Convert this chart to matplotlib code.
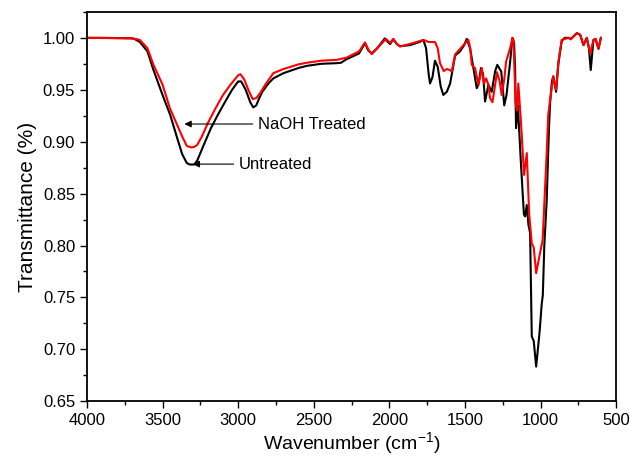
import numpy as np
import matplotlib
matplotlib.use("Agg")
import matplotlib.pyplot as plt
from matplotlib.ticker import MultipleLocator, FormatStrFormatter

plt.rcParams['font.family'] = ['Liberation Sans', 'DejaVu Sans']

#Untreated spectrum (wavenumber, transmittance)
wn_untreated = [4000, 3900, 3800, 3700, 3680, 3650, 3600, 3560, 3500, 3450, 3400, 3370,
                3340, 3320, 3290, 3270, 3230, 3180, 3130, 3080, 3040, 3000, 2980, 2950,
                2920, 2900, 2880, 2860, 2840, 2800, 2767, 2700, 2600, 2547, 2450, 2348,
                2320, 2282, 2200, 2161, 2140, 2117, 2080, 2030, 2010, 1995, 1975, 1950,
                1930, 1863, 1800, 1775, 1757, 1740, 1731, 1715, 1698, 1680, 1660, 1643,
                1620, 1598, 1565, 1532, 1505, 1488, 1466, 1444, 1422, 1411, 1394, 1380,
                1367, 1345, 1323, 1300, 1286, 1260, 1240, 1225, 1201, 1186, 1175, 1168,
                1162, 1150, 1130, 1110, 1102, 1091, 1080, 1069, 1058, 1045, 1029, 1007,
                992, 985, 975, 959, 945, 937, 925, 916, 897, 882, 860, 840, 816, 800,
                760, 738, 716, 694, 680, 668, 650, 636, 617, 601]
t_untreated = [1.000, 1.000, 0.9998, 0.9995, 0.9985, 0.996, 0.987, 0.969, 0.945, 0.926, 0.902, 0.888,
               0.8795, 0.878, 0.878, 0.882, 0.896, 0.913, 0.927, 0.940, 0.950, 0.958, 0.958, 0.950,
               0.938, 0.933, 0.935, 0.942, 0.948, 0.956, 0.961, 0.966, 0.971, 0.973, 0.975, 0.9756,
               0.976, 0.9795, 0.985, 0.995, 0.988, 0.985, 0.990, 0.9995, 0.996, 0.994, 0.9985, 0.994,
               0.992, 0.993, 0.996, 0.998, 0.990, 0.965, 0.956, 0.962, 0.978, 0.972, 0.953, 0.945,
               0.948, 0.956, 0.983, 0.987, 0.993, 0.999, 0.990, 0.9708, 0.9515, 0.955, 0.971, 0.965,
               0.9387, 0.9547, 0.948, 0.968, 0.974, 0.9676, 0.935, 0.945, 0.977, 1.000, 0.995, 0.969,
               0.913, 0.935, 0.880, 0.830, 0.828, 0.839, 0.820, 0.812, 0.7124, 0.708, 0.6834, 0.7156,
               0.744, 0.752, 0.800, 0.844, 0.910, 0.937, 0.958, 0.963, 0.948, 0.975, 0.997, 1.000, 1.000, 0.999,
               1.0045, 1.003, 0.993, 1.000, 0.990, 0.969, 0.998, 0.999, 0.9894, 1.000]

#NaOH treated spectrum
wn_treated = [4000, 3700, 3680, 3650, 3600, 3560, 3500, 3451, 3400, 3370, 3340, 3310,
              3290, 3270, 3240, 3200, 3150, 3100, 3050, 3000, 2985, 2960, 2930, 2904,
              2880, 2855, 2820, 2767, 2700, 2600, 2547, 2450, 2348, 2282, 2200, 2161,
              2140, 2117, 2080, 2022, 1995, 1973, 1950, 1929, 1843, 1775, 1740, 1698,
              1680, 1665, 1640, 1620, 1600, 1587, 1565, 1510, 1477, 1465, 1455, 1433,
              1411, 1400, 1389, 1374, 1360, 1345, 1334, 1318, 1300, 1288, 1270, 1257,
              1240, 1228, 1201, 1186, 1179, 1165, 1155, 1147, 1130, 1109, 1091, 1075,
              1058, 1045, 1029, 1007, 986, 975, 959, 949, 937, 916, 897, 882, 860,
              816, 800, 760, 738, 716, 694, 672, 650, 636, 617, 601]
t_treated = [1.000, 0.9995, 0.999, 0.998, 0.990, 0.974, 0.955, 0.932, 0.915, 0.905, 0.896, 0.8944,
             0.895, 0.897, 0.905, 0.918, 0.932, 0.945, 0.955, 0.964, 0.965, 0.960, 0.949, 0.941,
             0.942, 0.9467, 0.955, 0.966, 0.970, 0.9745, 0.976, 0.978, 0.9788, 0.981, 0.987, 0.9955,
             0.989, 0.9843, 0.990, 0.999, 0.995, 0.999, 0.994, 0.9916, 0.995, 0.998, 0.996, 0.996,
             0.990, 0.9756, 0.968, 0.970, 0.969, 0.9676, 0.984, 0.993, 0.998, 0.990, 0.974, 0.9708,
             0.9547, 0.962, 0.971, 0.956, 0.961, 0.955, 0.942, 0.938, 0.955, 0.967, 0.958, 0.945,
             0.960, 0.977, 0.990, 1.000, 0.998, 0.937, 0.930, 0.956, 0.920, 0.868, 0.889, 0.830,
             0.802, 0.798, 0.7733, 0.790, 0.8054, 0.840, 0.890, 0.926, 0.940, 0.9627, 0.950, 0.977, 0.998,
             1.000, 0.9985, 1.0045, 1.003, 0.993, 1.000, 0.985, 0.998, 0.999, 0.9894, 1.000]

fig = plt.figure(figsize=(6.3, 4.57), dpi=100)
ax = fig.add_axes([0.138, 0.122, 0.840, 0.852])

ax.plot(wn_untreated, t_untreated, color='black', lw=1.5)
ax.plot(wn_treated, t_treated, color='red', lw=1.5)

ax.set_xlim(4000, 500)
ax.set_ylim(0.65, 1.025)
ax.xaxis.set_major_locator(MultipleLocator(500))
ax.xaxis.set_minor_locator(MultipleLocator(250))
ax.yaxis.set_major_locator(MultipleLocator(0.05))
ax.yaxis.set_minor_locator(MultipleLocator(0.025))
ax.yaxis.set_major_formatter(FormatStrFormatter('%.2f'))
ax.tick_params(which='major', length=5, width=1, labelsize=12)
ax.tick_params(which='minor', length=3, width=1)
for s in ax.spines.values():
    s.set_linewidth(1.3)

ax.set_xlabel("Wavenumber (cm$^{\\mathregular{-1}}$)", fontsize=14, labelpad=2)
ax.set_ylabel("Transmittance (%)", fontsize=15)

#labels with arrows
arrow = dict(arrowstyle='-|>', color='black', lw=0.8, mutation_scale=10)
ax.annotate("NaOH Treated", xy=(3374, 0.917), xytext=(2867, 0.917),
            fontsize=12, va='center', ha='left', arrowprops=arrow)
ax.annotate("Untreated", xy=(3319, 0.8784), xytext=(2993, 0.8784),
            fontsize=12, va='center', ha='left', arrowprops=arrow)

fig.savefig("out.png", dpi=100)
